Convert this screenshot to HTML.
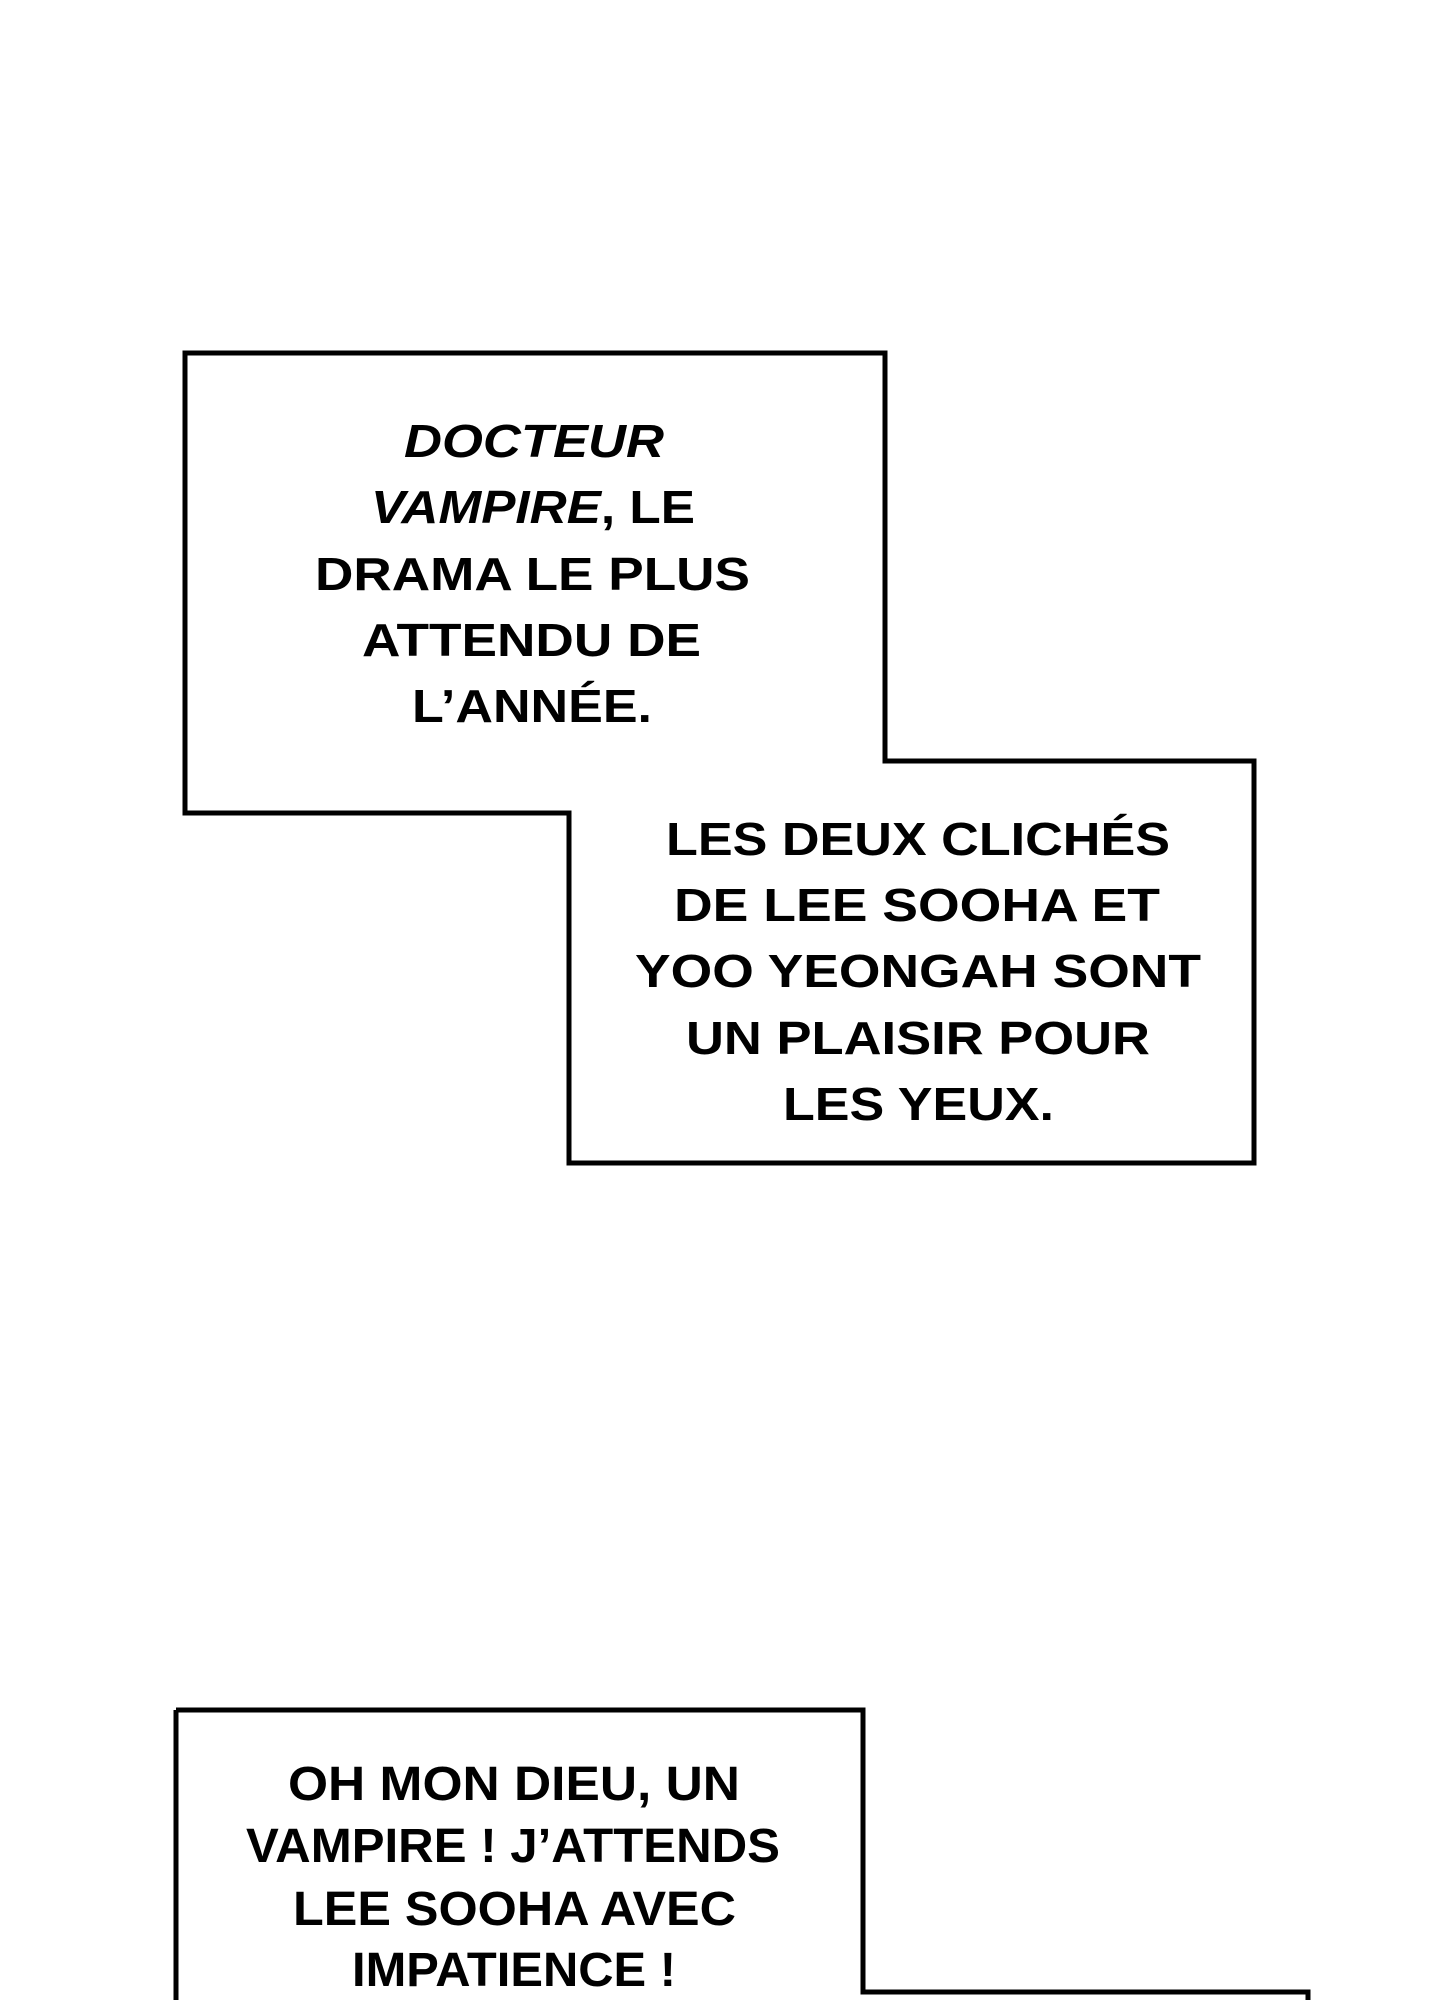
<!DOCTYPE html>
<html><head><meta charset="utf-8"><style>
html,body{margin:0;padding:0;background:#fff;}
svg{display:block;}
text{font-family:"Liberation Sans",sans-serif;font-weight:bold;fill:#000;}
</style></head><body>
<svg width="1440" height="2000" viewBox="0 0 1440 2000" xmlns="http://www.w3.org/2000/svg">
<rect width="1440" height="2000" fill="#fff"/>
<g fill="none" stroke="#000" stroke-width="5">
<path d="M185 353 H885 V761 H1254 V1163 H569 V813 H185 Z" fill="#fff"/>
<path d="M176 1710 H863 V1992 H1308 V2010 M176 1710 V2010"/>
</g>
<g font-size="46">
<text x="404" y="457" textLength="260" lengthAdjust="spacingAndGlyphs" font-style="italic">DOCTEUR</text>
<text x="371" y="523" textLength="324" lengthAdjust="spacingAndGlyphs"><tspan font-style="italic">VAMPIRE</tspan>, LE</text>
<text x="315" y="590" textLength="435" lengthAdjust="spacingAndGlyphs">DRAMA LE PLUS</text>
<text x="362" y="656" textLength="339" lengthAdjust="spacingAndGlyphs">ATTENDU DE</text>
<text x="412" y="722" textLength="240" lengthAdjust="spacingAndGlyphs">L’ANNÉE.</text>
<text x="666" y="855" textLength="504" lengthAdjust="spacingAndGlyphs">LES DEUX CLICHÉS</text>
<text x="674" y="921" textLength="486" lengthAdjust="spacingAndGlyphs">DE LEE SOOHA ET</text>
<text x="635" y="987" textLength="566" lengthAdjust="spacingAndGlyphs">YOO YEONGAH SONT</text>
<text x="686" y="1054" textLength="464" lengthAdjust="spacingAndGlyphs">UN PLAISIR POUR</text>
<text x="783" y="1120" textLength="271" lengthAdjust="spacingAndGlyphs">LES YEUX.</text>
</g>
<g font-size="48">
<text x="288" y="1800" textLength="452" lengthAdjust="spacingAndGlyphs">OH MON DIEU, UN</text>
<text x="246" y="1862" textLength="534" lengthAdjust="spacingAndGlyphs">VAMPIRE ! J’ATTENDS</text>
<text x="293" y="1925" textLength="443" lengthAdjust="spacingAndGlyphs">LEE SOOHA AVEC</text>
<text x="352" y="1986" textLength="324" lengthAdjust="spacingAndGlyphs">IMPATIENCE !</text>
</g>
</svg>
</body></html>
